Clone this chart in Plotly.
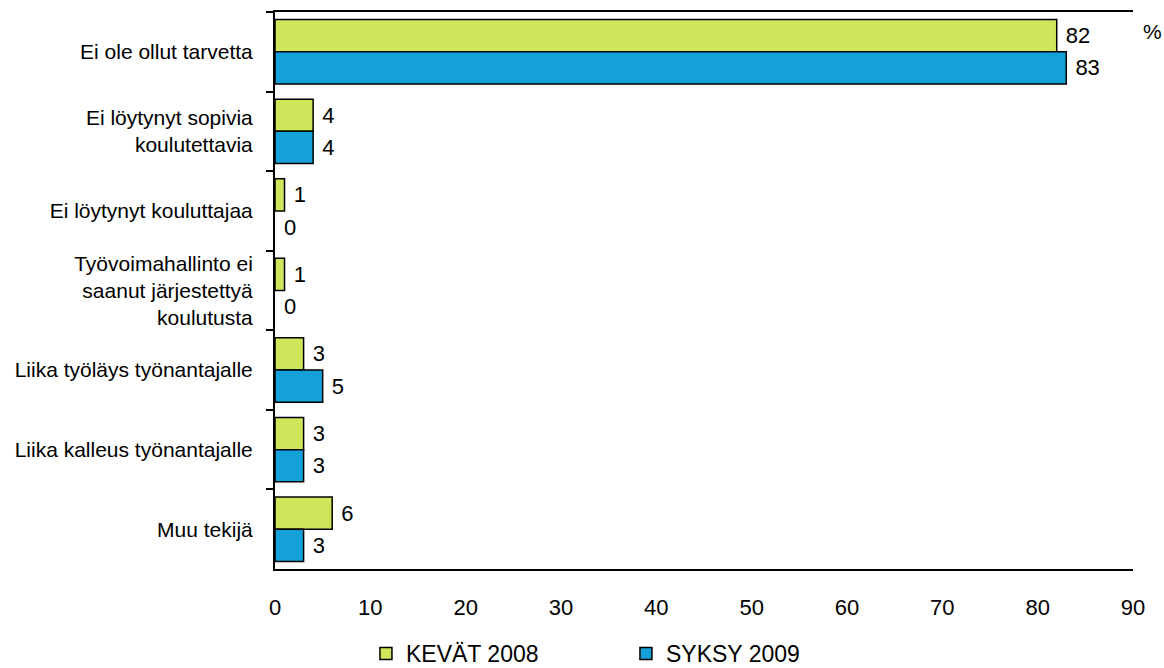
import plotly.graph_objects as go

categories = ["Ei ole ollut tarvetta", "Ei löytynyt sopivia<br>koulutettavia", "Ei löytynyt kouluttajaa",
              "Työvoimahallinto ei<br>saanut järjestettyä<br>koulutusta", "Liika työläys työnantajalle",
              "Liika kalleus työnantajalle", "Muu tekijä"]
kevat_2008 = [82, 4, 1, 1, 3, 3, 6]
syksy_2009 = [83, 4, 0, 0, 5, 3, 3]
series_names = ["KEVÄT 2008", "SYKSY 2009"]
x_ticks = [0, 10, 20, 30, 40, 50, 60, 70, 80, 90]

FONT = "Liberation Sans, Arial, sans-serif"
fig = go.Figure()
for name, vals, col in [(series_names[0], kevat_2008, "#CDE65A"), (series_names[1], syksy_2009, "#14A0D8")]:
    fig.add_trace(go.Bar(
        y=categories, x=vals, name=name, orientation="h",
        marker=dict(color=col, line=dict(color="black", width=[1.5 if v > 0 else 0 for v in vals])),
        text=[str(v) for v in vals], texttemplate="\u00a0%{text}", textposition="outside",
        textfont=dict(size=22, color="black", family=FONT), cliponaxis=False,
    ))

fig.update_layout(
    width=1164, height=668, barmode="group", bargap=0.19, bargroupgap=0,
    plot_bgcolor="white", paper_bgcolor="white",
    margin=dict(l=275, r=31, t=12, b=99, autoexpand=False),
    font=dict(family=FONT, color="black"),
    xaxis=dict(range=[0, 90], tickvals=x_ticks, showgrid=False, zeroline=False, automargin=False,
               showline=True, linecolor="black", linewidth=2, mirror=True,
               ticks="", tickfont=dict(size=22), ticklabelstandoff=18),
    yaxis=dict(autorange="reversed", showgrid=False, showline=True, linecolor="black", linewidth=2,
               automargin=False,
               ticks="outside", tickson="boundaries", ticklen=7, tickwidth=1.5, tickcolor="black",
               tickfont=dict(size=21), ticklabelstandoff=16),
    legend=dict(orientation="h", x=0.106, xanchor="left", y=-0.113, yanchor="top",
                font=dict(size=23), itemwidth=30, entrywidth=215, traceorder="normal"),
    showlegend=True,
)
fig.add_annotation(x=1.0, xref="paper", y=1.0, yref="paper", text="%", showarrow=False,
                   xanchor="left", yanchor="top", xshift=8, yshift=-6, font=dict(size=21))
fig.write_html("out.html")
